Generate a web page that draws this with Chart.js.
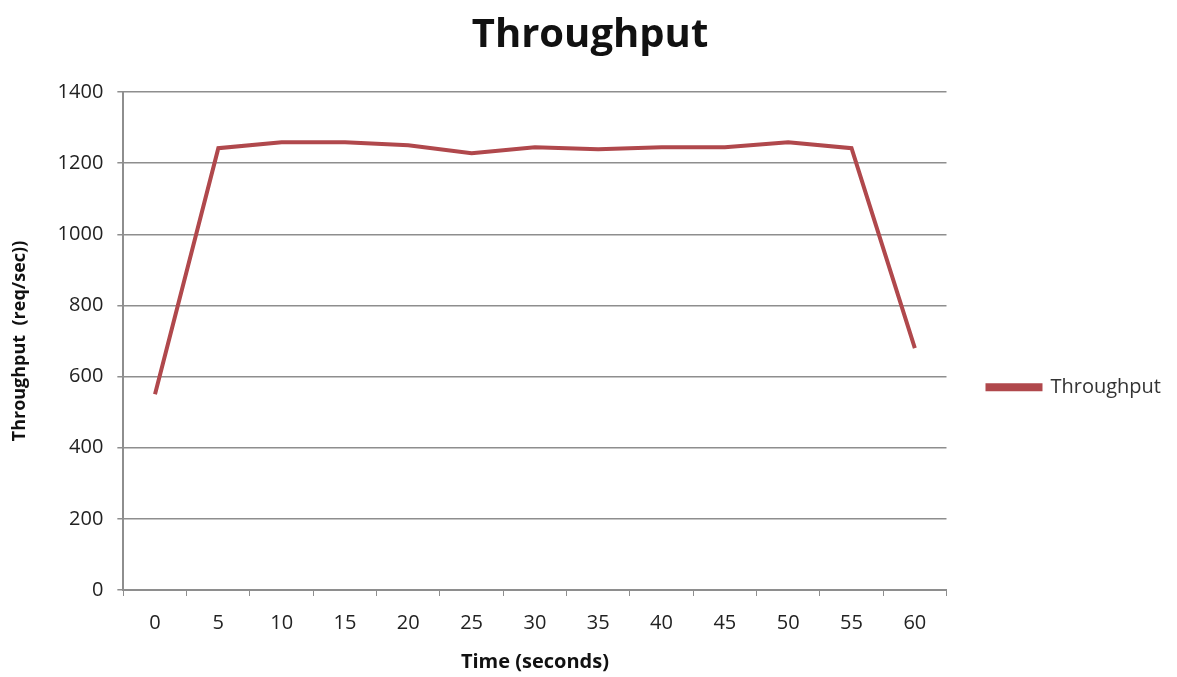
<!DOCTYPE html>
<html>
<head>
<meta charset="utf-8">
<script src="https://cdn.jsdelivr.net/npm/chart.js@4/dist/chart.umd.min.js"></script>
<style>
  body { margin: 0; background: #fff; }
  canvas { display: block; }
</style>
</head>
<body>
<canvas id="throughputChart" width="1177" height="677"></canvas>
<script>
// time in seconds (x categories)
const timeLabels = ['0', '5', '10', '15', '20', '25', '30', '35', '40', '45', '50', '55', '60'];
// throughput in req/sec
const throughputValues = [550, 1242, 1259, 1259, 1250, 1228, 1245, 1239, 1245, 1245, 1259, 1242, 680];
const yTicks = [0, 200, 400, 600, 800, 1000, 1200, 1400];

const lineColor = '#b0484c';
const gridColor = '#8e8e8e';
const fontFamily = "'Open Sans', 'Liberation Sans', sans-serif";

const ctx = document.getElementById('throughputChart').getContext('2d');

new Chart(ctx, {
    type: 'line',
    data: {
        labels: timeLabels,
        datasets: [{
            label: 'Throughput',
            data: throughputValues,
            borderColor: lineColor,
            backgroundColor: lineColor,
            borderWidth: 4,
            pointRadius: 0,
            tension: 0,
            fill: false
        }]
    },
    options: {
        responsive: false,
        animation: false,
        layout: {
            padding: { left: 9, right: 6, top: 8, bottom: 3 }
        },
        plugins: {
            title: {
                display: true,
                text: 'Throughput',
                color: '#111',
                font: { family: fontFamily, size: 40, weight: 'bold' },
                padding: { top: 4, bottom: 32 }
            },
            legend: {
                position: 'right',
                // empty title only pushes the legend item down a bit
                title: {
                    display: true,
                    text: ' ',
                    font: { size: 12 },
                    padding: { top: 0, bottom: 78 }
                },
                labels: {
                    color: '#333',
                    font: { family: fontFamily, size: 20 },
                    boxWidth: 53,
                    boxHeight: 4,
                    padding: 41
                }
            },
            tooltip: { enabled: false }
        },
        scales: {
            x: {
                type: 'category',
                offset: true,
                grid: {
                    offset: true,
                    drawOnChartArea: false,
                    color: gridColor,
                    tickLength: 6
                },
                border: { color: gridColor, width: 2 },
                ticks: {
                    color: '#222',
                    font: { family: fontFamily, size: 20 },
                    padding: 15,
                    maxRotation: 0,
                    autoSkip: false
                },
                title: {
                    display: true,
                    text: 'Time (seconds)',
                    color: '#111',
                    font: { family: fontFamily, size: 20, weight: 'bold' },
                    padding: { top: 0, bottom: 0 }
                }
            },
            y: {
                min: 0,
                max: 1400,
                afterBuildTicks: (axis) => {
                    axis.ticks = yTicks.map(v => ({ value: v }));
                },
                grid: {
                    color: gridColor,
                    lineWidth: 1.5,
                    tickLength: 6
                },
                border: { color: gridColor, width: 2 },
                ticks: {
                    color: '#222',
                    font: { family: fontFamily, size: 20 },
                    padding: 14,
                    callback: (value) => String(value)
                },
                title: {
                    display: true,
                    text: 'Throughput  (req/sec))',
                    color: '#111',
                    font: { family: fontFamily, size: 18, weight: 'bold' },
                    padding: { top: 0, bottom: 13 }
                }
            }
        }
    }
});
</script>
</body>
</html>
